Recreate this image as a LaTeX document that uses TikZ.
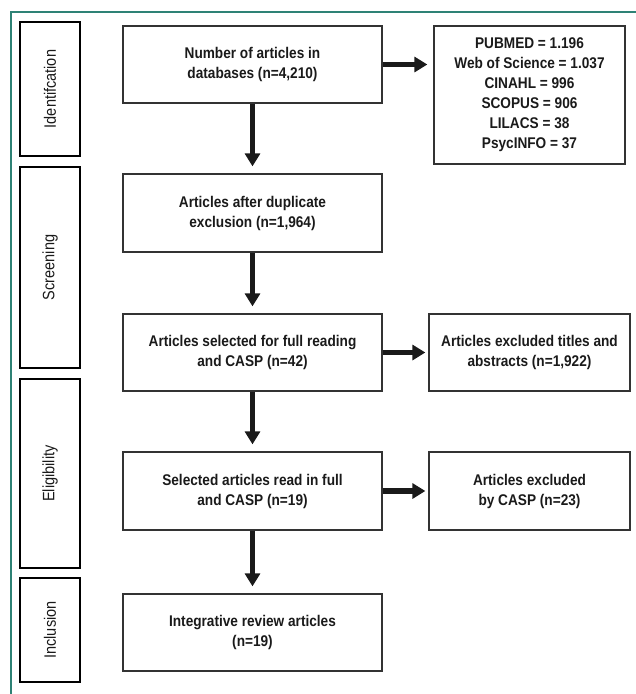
\documentclass[tikz,border=0pt]{standalone}
\usepackage{fontspec}
\setmainfont{Liberation Sans}[FakeStretch=0.88]
\usepackage{xcolor}
\usetikzlibrary{arrows.meta}
\definecolor{frame}{HTML}{2E8275}
\definecolor{edge}{HTML}{333333}
\definecolor{ink}{HTML}{1A1A1A}
\tikzset{
  stagebox/.style={draw=black, line width=1.6pt, inner sep=0pt},
  stagelab/.style={rotate=90, text=ink, font=\fontsize{16.5}{18}\selectfont},
  mainbox/.style={draw=edge, line width=1.3pt, inner sep=0pt, align=center, text=ink, font=\bfseries\fontsize{15.5}{20}\selectfont},
  flow/.style={draw=ink, line width=5.5pt, -{Triangle[width=15pt,length=13pt]}},
}
\begin{document}
\begin{tikzpicture}[x=1pt, y=-1pt]
  \useasboundingbox (0,0) rectangle (636,694);
  % outer frame, only top and left edge show
  \draw[frame, line width=1.5pt] (636,12) -- (11,12) -- (11,694);
  % stages
  \node[stagebox, minimum width=60pt, minimum height=134pt] (ident) at (50,89) {};
  \node[stagebox, minimum width=60pt, minimum height=201pt] (screen) at (50,267.5) {};
  \node[stagebox, minimum width=60pt, minimum height=189pt] (elig) at (50,473.5) {};
  \node[stagebox, minimum width=60pt, minimum height=104pt] (incl) at (50,630) {};
  \node[stagelab] at (ident) {Identifcation};
  \node[stagelab] at (screen) {Screening};
  \node[stagelab] at (elig) {Eligibility};
  \node[stagelab] at (incl) {Inclusion};
  % main flow
  \node[mainbox, minimum width=259pt, minimum height=77pt] (found) at (252.5,64.5) {Number of articles in\\databases (n=4,210)};
  \node[mainbox, minimum width=259pt, minimum height=78pt] (dedup) at (252.5,213) {Articles after duplicate\\exclusion (n=1,964)};
  \node[mainbox, minimum width=259pt, minimum height=77pt] (full) at (252.5,352.5) {Articles selected for full reading\\and CASP (n=42)};
  \node[mainbox, minimum width=259pt, minimum height=78pt] (read) at (252.5,491) {Selected articles read in full\\and CASP (n=19)};
  \node[mainbox, minimum width=259pt, minimum height=77pt] (review) at (252.5,632.5) {Integrative review articles\\(n=19)};
  % side boxes
  \node[mainbox, minimum width=191pt, minimum height=138pt] (bases) at (529.5,95) {PUBMED = 1.196\\Web of Science = 1.037\\CINAHL = 996\\SCOPUS = 906\\LILACS = 38\\PsycINFO = 37};
  \node[mainbox, minimum width=201pt, minimum height=77pt] (exabs) at (529.5,352.5) {Articles excluded titles and\\abstracts (n=1,922)};
  \node[mainbox, minimum width=201pt, minimum height=78pt] (excasp) at (529.5,491) {Articles excluded\\by CASP (n=23)};
  % arrows
  \draw[flow, shorten >=7pt] (found) -- (dedup);
  \draw[flow, shorten >=7pt] (dedup) -- (full);
  \draw[flow, shorten >=7pt] (full) -- (read);
  \draw[flow, shorten >=7pt] (read) -- (review);
  \draw[flow, shorten >=6pt] (found.east) -- (found.east -| bases.west);
  \draw[flow, shorten >=3pt] (full) -- (exabs);
  \draw[flow, shorten >=3pt] (read) -- (excasp);
\end{tikzpicture}
\end{document}
